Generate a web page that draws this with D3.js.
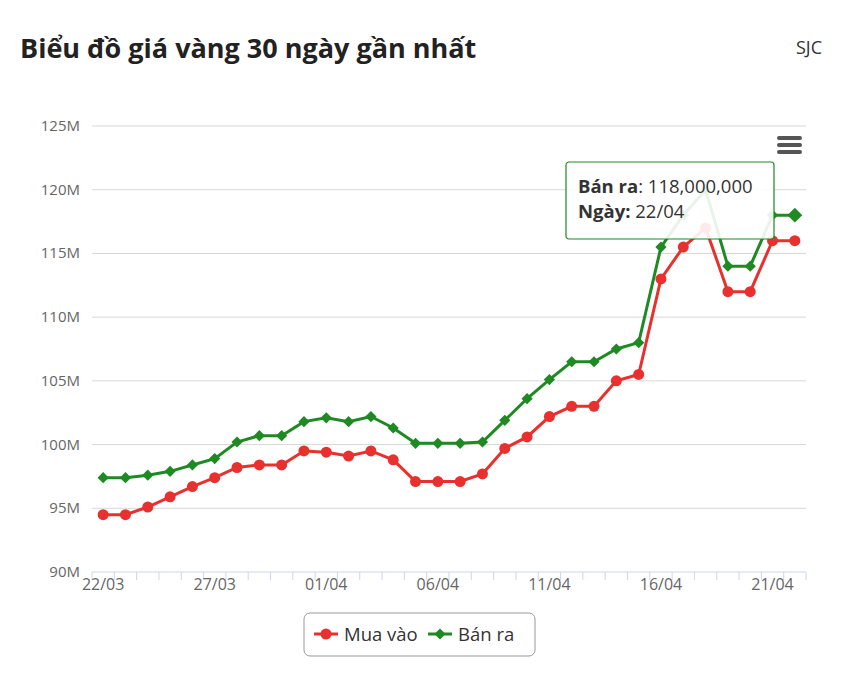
<!DOCTYPE html>
<html><head><meta charset="utf-8">
<script src="https://cdn.jsdelivr.net/npm/d3@7"></script>
<style>body{margin:0;background:#fff;font-family:"Open Sans",sans-serif}</style>
</head><body><div id="chart"></div>
<script>
var dates = ["22/03","23/03","24/03","25/03","26/03","27/03","28/03","29/03","30/03","31/03",
  "01/04","02/04","03/04","04/04","05/04","06/04","07/04","08/04","09/04","10/04",
  "11/04","12/04","13/04","14/04","15/04","16/04","17/04","18/04","19/04","20/04","21/04","22/04"];
var muaVao = [94.5,94.5,95.1,95.9,96.7,97.4,98.2,98.4,98.4,99.5,99.4,99.1,99.5,98.8,97.1,97.1,
  97.1,97.7,99.7,100.6,102.2,103.0,103.0,105.0,105.5,113.0,115.5,117.0,112.0,112.0,116.0,116.0];
var banRa = [97.4,97.4,97.6,97.9,98.4,98.9,100.2,100.7,100.7,101.8,102.1,101.8,102.2,101.3,100.1,100.1,
  100.1,100.2,101.9,103.6,105.1,106.5,106.5,107.5,108.0,115.5,118.0,120.0,114.0,114.0,118.0,118.0];
var yTicks = [90,95,100,105,110,115,120,125];

var svg = d3.select("#chart").append("svg").attr("width", 842).attr("height", 690);

svg.append("text").attr("x", 20).attr("y", 58).attr("font-size", 27).attr("font-weight", "bold")
  .attr("fill", "#222").text("Biểu đồ giá vàng 30 ngày gần nhất");
svg.append("text").attr("x", 822).attr("y", 54).attr("font-size", 18).attr("text-anchor", "end")
  .attr("fill", "#333").text("SJC");

var x = d3.scaleBand().domain(dates).range([92, 806]);
var cx = d => x(d) + x.bandwidth() / 2;
var y = d3.scaleLinear().domain([90, 125]).range([572, 126]);

// grid
svg.selectAll(".grid").data(yTicks).enter().append("line")
  .attr("x1", 92).attr("x2", 806).attr("y1", d => y(d)).attr("y2", d => y(d))
  .attr("stroke", d => d === 90 ? "#ccd6eb" : "#d8d8d8").attr("stroke-width", 1);
svg.selectAll(".ylab").data(yTicks).enter().append("text")
  .attr("x", 80).attr("y", d => y(d) + 5).attr("text-anchor", "end")
  .attr("font-size", 15).attr("fill", "#666").text(d => d + "M");

// x ticks
svg.selectAll(".xt").data(dates.concat(["end"])).enter().append("line")
  .attr("x1", (d, i) => i < dates.length ? x(d) : 806).attr("x2", (d, i) => i < dates.length ? x(d) : 806)
  .attr("y1", 572).attr("y2", 580).attr("stroke", "#ccd6eb");
svg.selectAll(".xl").data(dates.filter((d, i) => i % 5 === 0)).enter().append("text")
  .attr("x", d => cx(d)).attr("y", 590).attr("text-anchor", "middle")
  .attr("font-size", 16).attr("fill", "#666").text(d => d);

var line = d3.line().x((d, i) => cx(dates[i])).y(d => y(d));
svg.append("path").datum(muaVao).attr("d", line).attr("fill", "none").attr("stroke", "#e8302e").attr("stroke-width", 3);
svg.append("path").datum(banRa).attr("d", line).attr("fill", "none").attr("stroke", "#1f8a23").attr("stroke-width", 3);

svg.selectAll(".pm").data(muaVao).enter().append("circle")
  .attr("cx", (d, i) => cx(dates[i])).attr("cy", d => y(d)).attr("r", 5.5).attr("fill", "#e8302e");
var dia = d3.symbol().type(d3.symbolDiamond2);
svg.selectAll(".pb").data(banRa).enter().append("path")
  .attr("transform", (d, i) => `translate(${cx(dates[i])},${y(d)})`)
  .attr("d", (d, i) => dia.size(i === dates.length - 1 ? 140 : 80)()).attr("fill", "#1f8a23");

// menu icon
[0, 7, 14].forEach(o => svg.append("rect").attr("x", 777).attr("y", 136 + o).attr("width", 25)
  .attr("height", 4).attr("rx", 2).attr("fill", "#555"));

// tooltip
var tt = svg.append("g").attr("transform", "translate(566,162)");
tt.append("rect").attr("width", 208).attr("height", 77).attr("rx", 3).attr("fill", "rgba(255,255,255,0.9)")
  .attr("stroke", "#1f8a23").attr("stroke-width", 1.2);
var t1 = tt.append("text").attr("x", 12).attr("y", 31).attr("font-size", 18.5).attr("fill", "#333");
t1.append("tspan").attr("font-weight", "bold").text("Bán ra");
t1.append("tspan").text(": " + d3.format(",")(banRa[banRa.length - 1] * 1e6));
var t2 = tt.append("text").attr("x", 12).attr("y", 56).attr("font-size", 18.5).attr("fill", "#333");
t2.append("tspan").attr("font-weight", "bold").text("Ngày:");
t2.append("tspan").text(" " + dates[dates.length - 1]);

// legend
var lg = svg.append("g").attr("transform", "translate(304,613)");
lg.append("rect").attr("width", 231).attr("height", 43).attr("rx", 6).attr("fill", "#fff").attr("stroke", "#999");
lg.append("line").attr("x1", 10).attr("x2", 34).attr("y1", 21).attr("y2", 21).attr("stroke", "#e8302e").attr("stroke-width", 3);
lg.append("circle").attr("cx", 22).attr("cy", 21).attr("r", 5.5).attr("fill", "#e8302e");
lg.append("text").attr("x", 40).attr("y", 28).attr("font-size", 18.5).attr("fill", "#333").text("Mua vào");
lg.append("line").attr("x1", 124).attr("x2", 148).attr("y1", 21).attr("y2", 21).attr("stroke", "#1f8a23").attr("stroke-width", 3);
lg.append("path").attr("transform", "translate(136,21)").attr("d", dia.size(80)()).attr("fill", "#1f8a23");
lg.append("text").attr("x", 154).attr("y", 28).attr("font-size", 18.5).attr("fill", "#333").text("Bán ra");
</script></body></html>
